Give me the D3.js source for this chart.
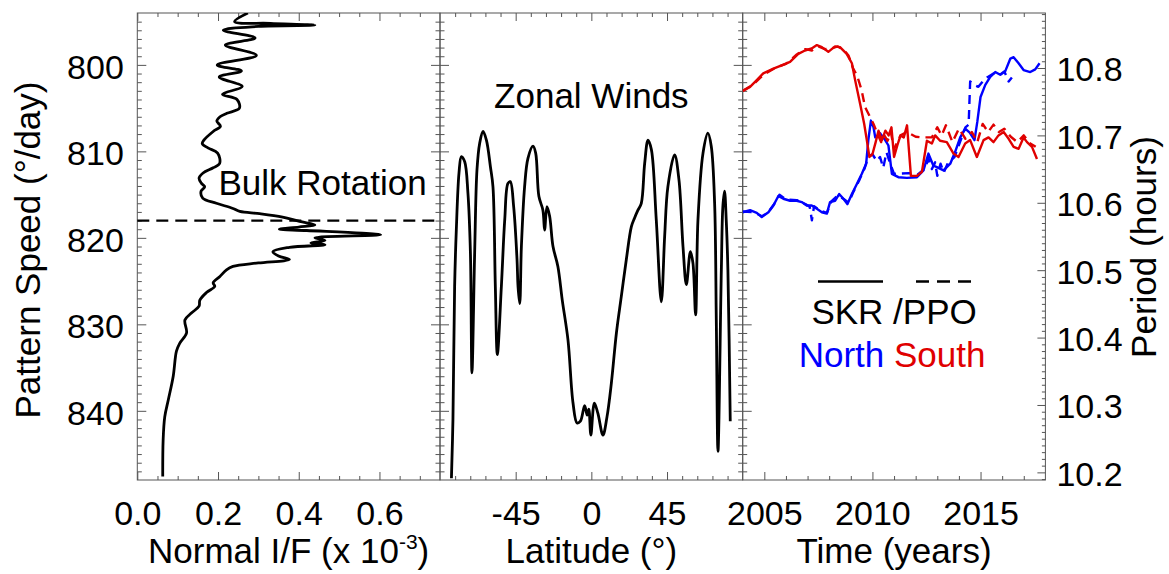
<!DOCTYPE html>
<html>
<head>
<meta charset="utf-8">
<script src="https://cdn.jsdelivr.net/npm/d3@7"></script>
<style>
  html, body { margin: 0; padding: 0; background: #fff; }
  svg { display: block; }
  text { font-family: "Liberation Sans", Arial, Helvetica, sans-serif; fill: #000; }
</style>
</head>
<body>
<svg id="chart" width="1169" height="574"></svg>
<script>
// ---- Panel 1: brightness profile versus pattern speed ----
const bulkSpeed = [794.0, 795.0, 795.2, 795.4, 795.55, 796.0, 796.9, 797.7, 798.9, 800.0, 800.7, 801.4,
  802.5, 803.4, 804.0, 805.0, 805.6, 806.0, 806.5, 807.1, 807.7, 808.7, 809.1, 809.6, 810.2, 811.4,
  811.9, 812.5, 813.1, 813.7, 814.1, 814.6, 815.4, 816.0, 816.6, 816.95, 817.2, 817.6, 818.1, 818.5,
  818.75, 819.0, 819.15, 819.65, 820.0, 820.3, 820.6, 820.8, 821.1, 821.6, 822.1, 822.5, 822.9, 823.3,
  823.7, 824.5, 825.2, 825.6, 826.3, 827.2, 827.9, 828.7, 829.5, 831.0, 832.2, 833.1, 836.0, 838.7,
  840.7, 843.4, 847.6];
const bulkIntensity = [0.274, 0.241, 0.33, 0.44, 0.30, 0.213, 0.292, 0.218, 0.295, 0.198, 0.258, 0.203,
  0.260, 0.211, 0.247, 0.253, 0.222, 0.205, 0.197, 0.206, 0.188, 0.165, 0.161, 0.175, 0.199, 0.204,
  0.188, 0.163, 0.153, 0.159, 0.167, 0.158, 0.162, 0.196, 0.237, 0.254, 0.303, 0.360, 0.402, 0.440,
  0.400, 0.352, 0.42, 0.603, 0.44, 0.465, 0.43, 0.465, 0.377, 0.336, 0.35, 0.377, 0.30, 0.237,
  0.221, 0.204, 0.188, 0.192, 0.172, 0.155, 0.153, 0.134, 0.118, 0.122, 0.105, 0.097, 0.089, 0.077,
  0.068, 0.064, 0.063];
const bulkRotationSpeed = 818.0;

// ---- Panel 2: zonal wind profile expressed as rotation rate ----
const windLatitude = [-83.2, -82.3, -81.3, -80.3, -78.7, -77.3, -75.3, -73.4, -71.9, -71.0, -69.4, -68.0,
  -66.4, -64.4, -62.4, -60.0, -58.5, -57.1, -55.9, -53.5, -51.5, -49.6, -48.2, -46.2, -44.2, -43.6,
  -42.6, -41.6, -39.7, -37.7, -34.7, -33.1, -31.2, -28.8, -27.8, -26.4, -24.8, -22.8, -19.9, -17.3,
  -13.9, -10.9, -8.5, -6.5, -4.0, -2.5, -1.5, -0.3, 1.8, 3.9, 6.9, 9.3, 11.9, 14.9, 17.8, 20.8, 23.8,
  25.7, 27.7, 29.7, 31.7, 33.7, 35.7, 38.6, 41.6, 43.6, 45.5, 49.5, 52.1, 54.5, 56.5, 58.9, 60.4, 62.0,
  63.4, 66.4, 69.3, 71.3, 73.3, 74.3, 75.3, 77.3, 78.2, 79.2, 80.2, 81.2, 82.6];
const windSpeed = [847.8, 841.0, 825.6, 819.1, 812.5, 810.6, 811.2, 814.8, 821.8, 835.6, 821.8, 812.1,
  809.05, 807.7, 808.7, 811.8, 814.1, 825.6, 833.5, 825.6, 817.9, 813.7, 813.5, 816.4, 822.5, 825.6,
  827.6, 821.0, 814.1, 810.8, 809.4, 810.2, 815.2, 816.8, 819.1, 816.4, 817.5, 821.0, 823.3, 827.2,
  831.8, 839.1, 841.4, 841.2, 839.4, 840.5, 839.8, 842.8, 839.1, 840.3, 842.8, 840.7, 836.8, 831.0,
  826.8, 822.5, 818.7, 817.7, 816.8, 816.0, 811.4, 808.7, 809.8, 817.9, 827.4, 819.8, 814.1, 810.4,
  813.3, 821.0, 825.4, 821.6, 822.9, 828.9, 817.9, 810.2, 807.9, 809.4, 816.0, 829.5, 844.7, 823.7,
  816.4, 814.6, 817.9, 823.7, 841.2];

// ---- Panel 3: SKR (solid) and PPO (dashed) periods, north and south ----
const skrNorthYear = [2004.0, 2004.34, 2004.65, 2004.88, 2005.19, 2005.42, 2005.65, 2005.88, 2006.19,
  2006.5, 2006.73, 2006.96, 2007.19, 2007.43, 2007.66, 2007.89, 2008.04, 2008.27, 2008.46, 2008.66,
  2008.84, 2009.05, 2009.28, 2009.51, 2009.71, 2009.81, 2009.93, 2010.05, 2010.13, 2010.36, 2010.59,
  2010.74, 2010.9, 2011.2, 2011.59, 2012.06, 2012.36, 2012.59, 2012.82, 2012.98, 2013.29, 2013.6,
  2013.83, 2014.06, 2014.29, 2014.5, 2014.72, 2014.85, 2015.0, 2015.22, 2015.45, 2015.68, 2015.91,
  2016.14, 2016.38, 2016.53, 2016.76, 2016.99, 2017.3, 2017.53, 2017.73];
const skrNorthPeriod = [10.586, 10.589, 10.585, 10.579, 10.586, 10.596, 10.610, 10.606, 10.603,
  10.603, 10.601, 10.596, 10.596, 10.591, 10.586, 10.584, 10.601, 10.603, 10.613, 10.606,
  10.598, 10.613, 10.628, 10.643, 10.658, 10.693, 10.722, 10.712, 10.697, 10.703, 10.693,
  10.685, 10.643, 10.638, 10.637, 10.638, 10.648, 10.673, 10.655, 10.653, 10.648, 10.658,
  10.676, 10.697, 10.710, 10.704, 10.693, 10.720, 10.757, 10.775, 10.787, 10.794, 10.790,
  10.795, 10.814, 10.816, 10.807, 10.797, 10.794, 10.798, 10.807];

const ppoNorthYear = [2004.0, 2004.5, 2004.9, 2005.2, 2005.5, 2005.7, 2006.0, 2006.5, 2006.9, 2007.1,
  2007.2, 2007.3, 2007.6, 2007.9, 2008.1, 2008.4, 2008.7, 2008.9, 2009.1, 2009.4, 2009.65, 2009.8,
  2010.0, 2010.2, 2010.35, 2010.5, 2010.65, 2010.8, 2011.0, 2011.7, 2012.1, 2012.4, 2012.6, 2012.75,
  2012.9, 2013.0, 2013.15, 2013.3, 2013.5, 2013.8, 2014.05, 2014.3, 2014.45, 2014.52, 2014.7, 2014.9,
  2015.1, 2015.3, 2015.6, 2015.9, 2016.1, 2016.3, 2016.45];
const ppoNorthPeriod = [10.587, 10.586, 10.580, 10.587, 10.600, 10.612, 10.605, 10.604, 10.598, 10.594,
  10.574, 10.595, 10.588, 10.585, 10.602, 10.611, 10.605, 10.600, 10.615, 10.634, 10.652, 10.668,
  10.672, 10.662, 10.668, 10.652, 10.675, 10.660, 10.643, 10.644, 10.642, 10.650, 10.665, 10.650,
  10.660, 10.640, 10.658, 10.645, 10.660, 10.668, 10.690, 10.712, 10.716, 10.780, 10.775, 10.772,
  10.780, 10.786, 10.792, 10.790, 10.795, 10.780, 10.786];

const skrSouthYear = [2004.0, 2004.34, 2004.65, 2004.95, 2005.42, 2005.8, 2006.19, 2006.57, 2006.88,
  2007.19, 2007.43, 2007.66, 2007.96, 2008.27, 2008.5, 2008.81, 2009.05, 2009.2, 2009.43, 2009.62,
  2009.74, 2009.86, 2010.0, 2010.15, 2010.28, 2010.44, 2010.6, 2010.75, 2010.88, 2011.0, 2011.15,
  2011.3, 2011.45, 2011.6, 2011.78, 2012.06, 2012.29, 2012.52, 2012.75, 2012.9, 2013.13, 2013.44,
  2013.75, 2013.98, 2014.29, 2014.52, 2014.83, 2015.14, 2015.37, 2015.6, 2015.83, 2016.07, 2016.3,
  2016.53, 2016.76, 2016.99, 2017.15, 2017.38, 2017.61];
const skrSouthPeriod = [10.766, 10.772, 10.782, 10.792, 10.799, 10.804, 10.809, 10.821, 10.826,
  10.829, 10.834, 10.831, 10.824, 10.832, 10.831, 10.821, 10.807, 10.782, 10.747, 10.717,
  10.693, 10.668, 10.672, 10.690, 10.707, 10.693, 10.707, 10.700, 10.712, 10.668, 10.685,
  10.700, 10.697, 10.715, 10.640, 10.640, 10.646, 10.692, 10.688, 10.700, 10.692, 10.690,
  10.673, 10.668, 10.688, 10.693, 10.668, 10.693, 10.697, 10.690, 10.700, 10.705, 10.695,
  10.683, 10.680, 10.697, 10.690, 10.683, 10.665];

const ppoSouthYear = [2004.0, 2004.5, 2005.0, 2005.5, 2006.0, 2006.5, 2006.9, 2007.2, 2007.5, 2007.8,
  2008.1, 2008.4, 2008.7, 2008.9, 2009.1, 2009.3, 2009.5, 2009.66, 2009.85, 2010.05, 2010.2, 2010.4,
  2010.55, 2010.7, 2010.85, 2011.0, 2011.3, 2011.6, 2012.0, 2012.3, 2012.75, 2013.0, 2013.2, 2013.4,
  2013.7, 2014.0, 2014.3, 2014.6, 2014.85, 2015.1, 2015.35, 2015.6, 2015.85, 2016.1, 2016.4, 2016.7,
  2017.0, 2017.3, 2017.55];
const ppoSouthPeriod = [10.766, 10.776, 10.791, 10.800, 10.806, 10.820, 10.828, 10.826, 10.832, 10.828,
  10.829, 10.832, 10.826, 10.818, 10.800, 10.788, 10.767, 10.742, 10.730, 10.717, 10.705, 10.690,
  10.700, 10.692, 10.705, 10.680, 10.700, 10.705, 10.698, 10.697, 10.697, 10.712, 10.700, 10.715,
  10.690, 10.710, 10.695, 10.705, 10.690, 10.717, 10.705, 10.716, 10.705, 10.710, 10.698, 10.690,
  10.700, 10.688, 10.683];

// ---- Axis ticks ----
const speedTicks = [800, 810, 820, 830, 840];
const intensityTicks = [0.0, 0.2, 0.4, 0.6];
const latitudeTicks = [-45, 0, 45];
const yearTicks = [2005, 2010, 2015];
const periodTicks = [10.2, 10.3, 10.4, 10.5, 10.6, 10.7, 10.8];

// ---- Layout ----
const plotTop = 13, plotBottom = 480;
const edges = [137.3, 440, 742.7, 1045.4];
const axisColor = "#555";
const northColor = "#0000ff", southColor = "#e00000";
const tickFont = 34, titleFont = 35;

const svg = d3.select("#chart");

const ySpeed = d3.scaleLinear().domain([794, 848]).range([plotTop, plotBottom]);
// period axis spans the periods that correspond to the speed limits (8640 = 360 deg * 24 h)
const yPeriod = d3.scaleLinear().domain([8640 / 848, 8640 / 794]).range([plotBottom, plotTop]);
const xIntensity = d3.scaleLinear().domain([0, 0.75]).range([edges[0], edges[1]]);
const xLatitude = d3.scaleLinear().domain([-90, 90]).range([edges[1], edges[2]]);
const xYear = d3.scaleLinear().domain([2004, 2018]).range([edges[2], edges[3]]);

// clip paths per panel
const defs = svg.append("defs");
[0, 1, 2].forEach(i => {
  defs.append("clipPath").attr("id", "clip" + i).append("rect")
    .attr("x", edges[i]).attr("y", plotTop)
    .attr("width", edges[i + 1] - edges[i]).attr("height", plotBottom - plotTop);
});

function axis(axisFn, scale, values, size, transform, withLabels, padding, fmt, dy) {
  const ax = axisFn(scale).tickValues(values).tickSizeInner(-size).tickSizeOuter(0)
    .tickPadding(padding || 0);
  ax.tickFormat(withLabels ? fmt : () => "");
  const g = svg.append("g").attr("transform", transform).call(ax)
    .attr("font-size", null).attr("font-family", null);
  g.select(".domain").remove();
  g.selectAll("line").attr("stroke", axisColor).attr("stroke-width", 1);
  if (withLabels) {
    g.selectAll("text").attr("font-size", tickFont).attr("fill", "#000");
    if (dy) g.selectAll("text").attr("dy", dy);
  } else {
    g.selectAll("text").remove();
  }
  return g;
}

const speedMinor = d3.range(795, 848).filter(v => v % 10 !== 0);
const intensityMinor = d3.range(1, 15).map(i => i * 0.05).filter((v, i) => (i + 1) % 4 !== 0);
const latitudeMinor = d3.range(-81, 90, 9).filter(v => v % 45 !== 0);
const yearMinor = d3.range(2005, 2018).filter(v => v % 5 !== 0);
const periodMinor = d3.range(1019, 1089).map(v => v / 100).filter(v => Math.round(v * 100) % 10 !== 0);
const f1 = d3.format(".1f");

// speed ticks on every vertical panel edge (left-pointing and right-pointing)
edges.forEach((ex, i) => {
  if (i < 3) {
    axis(d3.axisLeft, ySpeed, speedMinor, 4.5, `translate(${ex},0)`, false);
    axis(d3.axisLeft, ySpeed, speedTicks, 9, `translate(${ex},0)`, i === 0, 13.5, d => d, "0.39em");
  }
  if (i > 0 && i < 3) {
    axis(d3.axisRight, ySpeed, speedMinor, 4.5, `translate(${ex},0)`, false);
    axis(d3.axisRight, ySpeed, speedTicks, 9, `translate(${ex},0)`, false);
  }
});

// period axis on the right
axis(d3.axisRight, yPeriod, periodMinor, 3.5, `translate(${edges[3]},0)`, false);
axis(d3.axisRight, yPeriod, periodTicks, 8, `translate(${edges[3]},0)`, true, 11, f1, "0.38em");

// bottom and top axes of each panel
function xAxes(scale, major, minor, fmt) {
  axis(d3.axisBottom, scale, minor, 4, `translate(0,${plotBottom})`, false);
  axis(d3.axisBottom, scale, major, 8, `translate(0,${plotBottom})`, true, 21, fmt);
  axis(d3.axisTop, scale, minor, 4, `translate(0,${plotTop})`, false);
  axis(d3.axisTop, scale, major, 8, `translate(0,${plotTop})`, false);
}
xAxes(xIntensity, intensityTicks, intensityMinor, f1);
xAxes(xLatitude, latitudeTicks, latitudeMinor, d => d);
xAxes(xYear, yearTicks, yearMinor, d => d);

// panel frames
[0, 1, 2].forEach(i => {
  svg.append("rect").attr("x", edges[i]).attr("y", plotTop)
    .attr("width", edges[i + 1] - edges[i]).attr("height", plotBottom - plotTop)
    .attr("fill", "none").attr("stroke", axisColor).attr("stroke-width", 1);
});

// ---- Panel 1 ----
const bulk = bulkSpeed.map((s, i) => ({ s, v: bulkIntensity[i] }));
svg.append("g").attr("clip-path", "url(#clip0)").append("path")
  .datum(bulk)
  .attr("d", d3.line().x(d => xIntensity(d.v)).y(d => ySpeed(d.s)).curve(d3.curveCatmullRom.alpha(0.5)))
  .attr("fill", "none").attr("stroke", "#000").attr("stroke-width", 2.8).attr("stroke-linejoin", "round");

svg.append("line")
  .attr("x1", xIntensity(0)).attr("x2", xIntensity(0.75))
  .attr("y1", ySpeed(bulkRotationSpeed)).attr("y2", ySpeed(bulkRotationSpeed))
  .attr("stroke", "#000").attr("stroke-width", 2.2).attr("stroke-dasharray", "12,7");

svg.append("text").attr("x", 218.5).attr("y", 195).attr("font-size", titleFont).text("Bulk Rotation");

// ---- Panel 2 ----
const winds = windLatitude.map((lat, i) => ({ lat, s: windSpeed[i] }));
svg.append("g").attr("clip-path", "url(#clip1)").append("path")
  .datum(winds)
  .attr("d", d3.line().x(d => xLatitude(d.lat)).y(d => ySpeed(d.s)).curve(d3.curveCatmullRom.alpha(0.5)))
  .attr("fill", "none").attr("stroke", "#000").attr("stroke-width", 2.8).attr("stroke-linejoin", "round");

svg.append("text").attr("x", (edges[1] + edges[2]) / 2).attr("y", 108)
  .attr("text-anchor", "middle").attr("font-size", titleFont).text("Zonal Winds");

// ---- Panel 3 ----
const periodLine = d3.line().x(d => xYear(d.t)).y(d => yPeriod(d.p));
const series = [
  { t: skrNorthYear, p: skrNorthPeriod, color: northColor, dash: null },
  { t: ppoNorthYear, p: ppoNorthPeriod, color: northColor, dash: "9,6" },
  { t: skrSouthYear, p: skrSouthPeriod, color: southColor, dash: null },
  { t: ppoSouthYear, p: ppoSouthPeriod, color: southColor, dash: "9,6" }
];
const g3 = svg.append("g").attr("clip-path", "url(#clip2)");
series.forEach(sr => {
  g3.append("path").datum(sr.t.map((t, i) => ({ t, p: sr.p[i] })))
    .attr("d", periodLine)
    .attr("fill", "none").attr("stroke", sr.color).attr("stroke-width", 2.4)
    .attr("stroke-linejoin", "round")
    .attr("stroke-dasharray", sr.dash);
});

// legend
svg.append("line").attr("x1", 818).attr("x2", 883).attr("y1", 281.5).attr("y2", 281.5)
  .attr("stroke", "#000").attr("stroke-width", 2.5);
svg.append("line").attr("x1", 916).attr("x2", 972).attr("y1", 281.5).attr("y2", 281.5)
  .attr("stroke", "#000").attr("stroke-width", 2.5).attr("stroke-dasharray", "13,8");
const midX3 = (edges[2] + edges[3]) / 2;
svg.append("text").attr("x", midX3).attr("y", 324).attr("text-anchor", "middle")
  .attr("font-size", titleFont).text("SKR /PPO");
const ns = svg.append("text").attr("x", midX3 - 2).attr("y", 367).attr("text-anchor", "middle")
  .attr("font-size", titleFont);
ns.append("tspan").attr("fill", northColor).style("fill", northColor).text("North");
ns.append("tspan").attr("fill", southColor).style("fill", southColor).text(" South");

// ---- Axis titles ----
const xt1 = svg.append("text").attr("x", (edges[0] + edges[1]) / 2).attr("y", 563)
  .attr("text-anchor", "middle").attr("font-size", titleFont);
xt1.append("tspan").text("Normal I/F (x 10");
xt1.append("tspan").attr("font-size", 21).attr("dy", -14).text("-3");
xt1.append("tspan").attr("dy", 14).text(")");

svg.append("text").attr("x", (edges[1] + edges[2]) / 2).attr("y", 563)
  .attr("text-anchor", "middle").attr("font-size", titleFont).text("Latitude (°)");
svg.append("text").attr("x", midX3).attr("y", 563)
  .attr("text-anchor", "middle").attr("font-size", titleFont).text("Time (years)");

svg.append("text").attr("transform", "translate(40,250) rotate(-90)")
  .attr("text-anchor", "middle").attr("font-size", titleFont).text("Pattern Speed (°/day)");
svg.append("text").attr("transform", "translate(1156,247) rotate(-90)")
  .attr("text-anchor", "middle").attr("font-size", titleFont).text("Period (hours)");
</script>
</body>
</html>
